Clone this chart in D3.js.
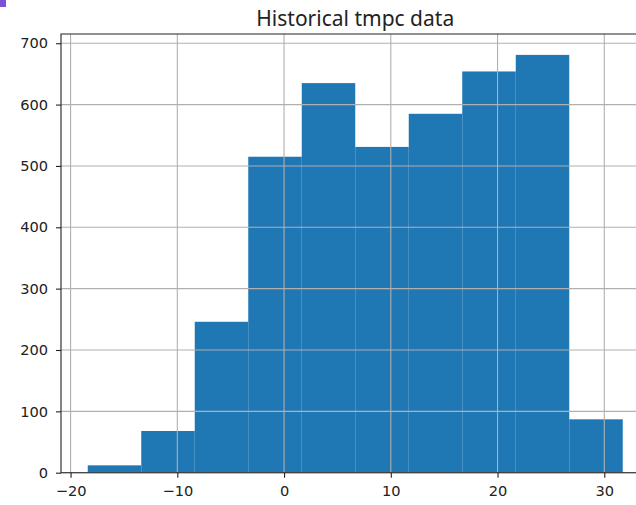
<!DOCTYPE html>
<html>
<head>
<meta charset="utf-8">
<script src="https://cdn.jsdelivr.net/npm/d3@7"></script>
<style>
  body { margin: 0; background: white; }
  svg { display: block; font-family: "DejaVu Sans", sans-serif; }
</style>
</head>
<body>
<svg id="vis" width="636" height="505"></svg>
<script>
var vis = d3.select("#vis");

// histogram data
var title = "Historical tmpc data";
var binStart = -18.39;
var binWidth = 5.012;
var counts = [12, 68, 246, 515, 635, 531, 585, 654, 681, 87];
var xTicks = [-20, -10, 0, 10, 20, 30];
var yTicks = [0, 100, 200, 300, 400, 500, 600, 700];

var bins = counts.map((c, i) => ({ x0: binStart + i * binWidth, x1: binStart + (i + 1) * binWidth, n: c }));

// axes box (right side runs off the image like the original)
// note: "top" is taken by window.top, so use a box object
var box = { left: 61, top: 34, right: 649.5, bottom: 472.7 };
var span = bins[bins.length - 1].x1 - bins[0].x0;
var x = d3.scaleLinear()
    .domain([bins[0].x0 - span * 0.05, bins[bins.length - 1].x1 + span * 0.05])
    .range([box.left, box.right]);
var y = d3.scaleLinear()
    .domain([0, d3.max(counts) * 1.05])
    .range([box.bottom, box.top]);

// little purple mark in the corner
vis.append("rect")
    .attr("x", 0).attr("y", 0)
    .attr("width", 6).attr("height", 7)
    .attr("fill", "#7b52d6");

// bars
vis.selectAll(".bar").data(bins).enter().append("rect")
    .attr("class", "bar")
    .attr("x", d => x(d.x0))
    .attr("width", d => x(d.x1) - x(d.x0))
    .attr("y", d => y(d.n))
    .attr("height", d => y(0) - y(d.n))
    .attr("fill", "#1f77b4");

// grid on top of bars
vis.selectAll(".gx").data(xTicks).enter().append("line")
    .attr("x1", d => x(d)).attr("x2", d => x(d))
    .attr("y1", box.top).attr("y2", box.bottom)
    .attr("stroke", "#b0b0b0")
    .attr("stroke-width", 1.1);
vis.selectAll(".gy").data(yTicks).enter().append("line")
    .attr("x1", box.left).attr("x2", box.right)
    .attr("y1", d => y(d)).attr("y2", d => y(d))
    .attr("stroke", "#b0b0b0")
    .attr("stroke-width", 1.1);

// axes
var xAxis = d3.axisBottom(x).tickValues(xTicks).tickSize(5).tickPadding(8).tickFormat(d3.format("d"));
var yAxis = d3.axisLeft(y).tickValues(yTicks).tickSize(5).tickPadding(8).tickFormat(d3.format("d"));

var gx = vis.append("g")
    .attr("transform", `translate(0 ${box.bottom})`)
    .call(xAxis);
var gy = vis.append("g")
    .attr("transform", `translate(${box.left} 0)`)
    .call(yAxis);

[gx, gy].forEach(g => {
    g.select(".domain").remove();
    g.selectAll(".tick line").attr("stroke", "#222").attr("stroke-width", 1.1);
    g.selectAll(".tick text")
        .attr("fill", "#222")
        .attr("font-size", "14.6px")
        .attr("font-family", "DejaVu Sans, sans-serif");
});

// spines
vis.append("path")
    .attr("d", `M${box.right},${box.top}H${box.left}V${box.bottom}H${box.right}`)
    .attr("fill", "none")
    .attr("stroke", "#222")
    .attr("stroke-width", 1.1);

var t = vis.append("text")
    .attr("x", (box.left + box.right) / 2)
    .attr("y", 25.5)
    .attr("text-anchor", "middle")
    .attr("font-family", "Noto Sans, sans-serif")
    .attr("font-size", "20px")
    .attr("fill", "#222")
    .text(title);
// fit title to the width seen in the picture
var tw = t.node().getComputedTextLength();
t.attr("font-size", (20 * 198 / tw).toFixed(2) + "px");
</script>
</body>
</html>
